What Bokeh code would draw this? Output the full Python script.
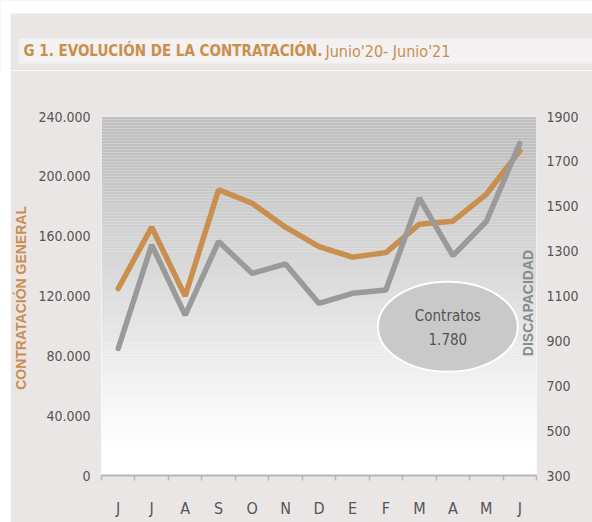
import numpy as np
from bokeh.plotting import figure
from bokeh.layouts import column, row
from bokeh.models import Range1d, LinearAxis, FixedTicker, Label, Spacer
from bokeh.embed import file_html
from bokeh.resources import INLINE

# ---- data ----
months = ["J", "J", "A", "S", "O", "N", "D", "E", "F", "M", "A", "M", "J"]
general = [125000, 166000, 120000, 191000, 182000, 166000, 153000, 146000,
           149000, 168000, 170000, 188000, 217000]
discap = [866, 1328, 1015, 1343, 1201, 1243, 1067, 1112, 1127, 1536, 1280, 1432, 1780]
left_ticks = [0, 40000, 80000, 120000, 160000, 200000, 240000]
right_ticks = [300, 500, 700, 900, 1100, 1300, 1500, 1700, 1900]
title_bold = "G 1. EVOLUCIÓN DE LA CONTRATACIÓN."
title_rest = "Junio'20- Junio'21"

ORANGE = "#c98f4e"
GREY = "#9a9a9a"
PANEL = "#ebe6e6"
BAND = "#f3f1f1"
NARROW = "DejaVu Sans Condensed"
W = 592
TH = 70     # title strip height
MH = 452    # main chart height
GAP = 10    # white strip at left

# ---------------- title strip ----------------
t = figure(width=W, height=TH, output_backend="svg", toolbar_location=None,
           x_range=Range1d(0, W), y_range=Range1d(TH, 0), min_border=0)
t.axis.visible = False
t.grid.visible = False
t.outline_line_color = None
t.background_fill_color = PANEL
t.border_fill_color = PANEL
t.quad(left=[0, 0], right=[W, GAP], top=[0, 0], bottom=[13, TH],
       fill_color="white", line_color=None)
t.quad(left=18, right=W, top=38, bottom=63, fill_color=BAND, line_color=None)
t.add_layout(Label(x=23, y=50.5, text=title_bold, text_font=NARROW,
                   text_font_style="bold", text_font_size="15px",
                   text_color=ORANGE, text_baseline="middle"))
t.add_layout(Label(x=325, y=50.5, text=title_rest, text_font=NARROW,
                   text_font_size="16px", text_color=ORANGE,
                   text_baseline="middle"))

# ---------------- main chart ----------------
p = figure(width=W - GAP, height=MH, output_backend="svg", toolbar_location=None,
           x_range=Range1d(0, len(months)), y_range=Range1d(0, 240000),
           min_border_left=100 - GAP, min_border_right=56, min_border_top=46,
           min_border_bottom=47)
p.border_fill_color = PANEL
p.background_fill_color = "white"
p.outline_line_color = None
p.extra_y_ranges = {"disc": Range1d(300, 1900)}

# gradient background (decorative)
edges = np.linspace(0, 240000, 121)
mids = (edges[:-1] + edges[1:]) / 2
tt = np.clip((mids - 20000) / 200000, 0, 1)
shade = (255 - tt * (255 - 192)).astype(int)
cols = ["#%02x%02x%02x" % (s, s, s) for s in shade]
p.quad(left=0, right=len(months), bottom=edges[:-1], top=edges[1:],
       fill_color=cols, line_color=None)

xs = [i + 0.5 for i in range(len(months))]
p.line(xs, general, line_color=ORANGE, line_width=5.5, line_cap="round")
p.line(xs, discap, line_color=GREY, line_width=5.5, line_cap="round", y_range_name="disc")

# bubble
p.ellipse(x=10.35, y=99500, width=140, height=90, width_units="screen",
          height_units="screen", fill_color="#c9c9c9", line_color="white", line_width=2)
last = "{:,}".format(discap[-1]).replace(",", ".")
p.add_layout(Label(x=10.35, y=106500, text="Contratos", text_align="center",
                   text_baseline="middle", text_font=NARROW, text_font_size="15px",
                   text_color="#555555"))
p.add_layout(Label(x=10.35, y=91000, text=last, text_align="center",
                   text_baseline="middle", text_font=NARROW, text_font_size="15px",
                   text_color="#555555"))

# DISCAPACIDAD label inside plot
p.add_layout(Label(x=12.74, y=115300, text="DISCAPACIDAD", angle=np.pi / 2,
                   text_align="center", text_baseline="middle",
                   text_font="Liberation Sans", text_font_style="bold",
                   text_font_size="14px", text_color="#8a8a8a"))

# axes
p.xaxis.ticker = FixedTicker(ticks=xs, minor_ticks=list(range(len(months) + 1)))
p.xaxis.major_label_overrides = {x: m for x, m in zip(xs, months)}
p.xaxis.major_tick_line_color = None
p.xaxis.major_tick_out = 0
p.xaxis.major_tick_in = 0
p.xaxis.minor_tick_in = 0
p.xaxis.minor_tick_out = 5
p.xaxis.minor_tick_line_color = "#b5b5b5"
p.xaxis.minor_tick_line_width = 1.5
p.xaxis.axis_line_color = "#b5b5b5"
p.xaxis.axis_line_width = 2
p.xaxis.major_label_standoff = 18
p.xaxis.major_label_text_font = NARROW
p.xaxis.major_label_text_font_size = "16px"
p.xaxis.major_label_text_color = "#555555"

p.yaxis.ticker = FixedTicker(ticks=left_ticks)
p.yaxis.major_label_overrides = {v: "{:,}".format(v).replace(",", ".") for v in left_ticks}
p.yaxis.axis_line_color = None
p.yaxis.major_tick_line_color = None
p.yaxis.major_tick_out = 0
p.yaxis.minor_tick_line_color = None
p.yaxis.major_label_standoff = 11
p.yaxis.major_label_text_font = NARROW
p.yaxis.major_label_text_font_size = "14px"
p.yaxis.major_label_text_color = "#555555"
p.yaxis.axis_label = "CONTRATACIÓN  GENERAL"
p.yaxis.axis_label_text_font = "Liberation Sans"
p.yaxis.axis_label_text_font_style = "bold"
p.yaxis.axis_label_text_font_size = "14px"
p.yaxis.axis_label_text_color = ORANGE
p.yaxis.axis_label_standoff = 6

ra = LinearAxis(y_range_name="disc", ticker=FixedTicker(ticks=right_ticks),
                axis_line_color=None, major_tick_line_color=None, major_tick_out=0,
                minor_tick_line_color=None, major_label_standoff=10,
                major_label_text_font=NARROW, major_label_text_font_size="14px",
                major_label_text_color="#555555")
p.add_layout(ra, "right")

p.xgrid.grid_line_color = None
p.ygrid.grid_line_color = "white"
p.ygrid.grid_line_width = 2

layout = column(column(t), row(Spacer(width=GAP, height=MH), p, spacing=0), spacing=0)
open("out.html", "w").write(file_html(layout, INLINE))
